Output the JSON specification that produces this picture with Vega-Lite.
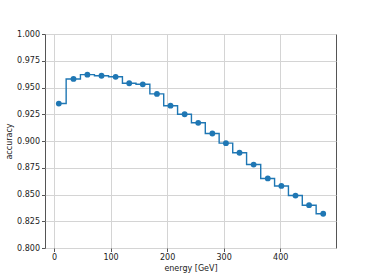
{
  "$schema": "https://vega.github.io/schema/vega-lite/v6.json",
  "width": 291,
  "height": 214,
  "autosize": "none",
  "padding": {"left": 45, "top": 34, "right": 38, "bottom": 32},
  "background": "white",
  "config": {
    "font": "DejaVu Sans",
    "view": {"stroke": "#555555", "strokeWidth": 1},
    "axis": {
      "labelFont": "DejaVu Sans",
      "titleFont": "DejaVu Sans",
      "labelFontSize": 8,
      "titleFontSize": 8,
      "titleFontWeight": "normal",
      "labelColor": "#222222",
      "titleColor": "#222222",
      "gridColor": "#d4d4d4",
      "gridWidth": 1,
      "gridOpacity": 1,
      "domain": false,
      "tickColor": "#555555",
      "tickSize": 3.5,
      "labelPadding": 2
    }
  },
  "data": {
    "values": [
      {"energy": 8.5, "accuracy": 0.935},
      {"energy": 34.5, "accuracy": 0.958},
      {"energy": 59, "accuracy": 0.962},
      {"energy": 84, "accuracy": 0.961},
      {"energy": 109, "accuracy": 0.960},
      {"energy": 133, "accuracy": 0.954},
      {"energy": 157, "accuracy": 0.953},
      {"energy": 182, "accuracy": 0.944},
      {"energy": 206, "accuracy": 0.933},
      {"energy": 231, "accuracy": 0.925},
      {"energy": 255, "accuracy": 0.917},
      {"energy": 280, "accuracy": 0.907},
      {"energy": 304, "accuracy": 0.898},
      {"energy": 328, "accuracy": 0.889},
      {"energy": 353, "accuracy": 0.878},
      {"energy": 378, "accuracy": 0.865},
      {"energy": 402, "accuracy": 0.858},
      {"energy": 427, "accuracy": 0.849},
      {"energy": 451, "accuracy": 0.840},
      {"energy": 476, "accuracy": 0.832}
    ]
  },
  "encoding": {
    "x": {
      "field": "energy",
      "type": "quantitative",
      "scale": {"domain": [-15.9, 498.6], "nice": false, "zero": false},
      "axis": {"values": [0, 100, 200, 300, 400], "title": "energy [GeV]", "titlePadding": 3}
    },
    "y": {
      "field": "accuracy",
      "type": "quantitative",
      "scale": {"domain": [0.8, 1.0], "nice": false, "zero": false},
      "axis": {
        "values": [0.8, 0.825, 0.85, 0.875, 0.9, 0.925, 0.95, 0.975, 1.0],
        "format": ".3f",
        "title": "accuracy",
        "titlePadding": 3
      }
    }
  },
  "layer": [
    {"mark": {"type": "line", "interpolate": "step", "color": "#1f77b4", "strokeWidth": 1.4}},
    {"mark": {"type": "point", "filled": true, "opacity": 1, "color": "#1f77b4", "size": 34}}
  ]
}
